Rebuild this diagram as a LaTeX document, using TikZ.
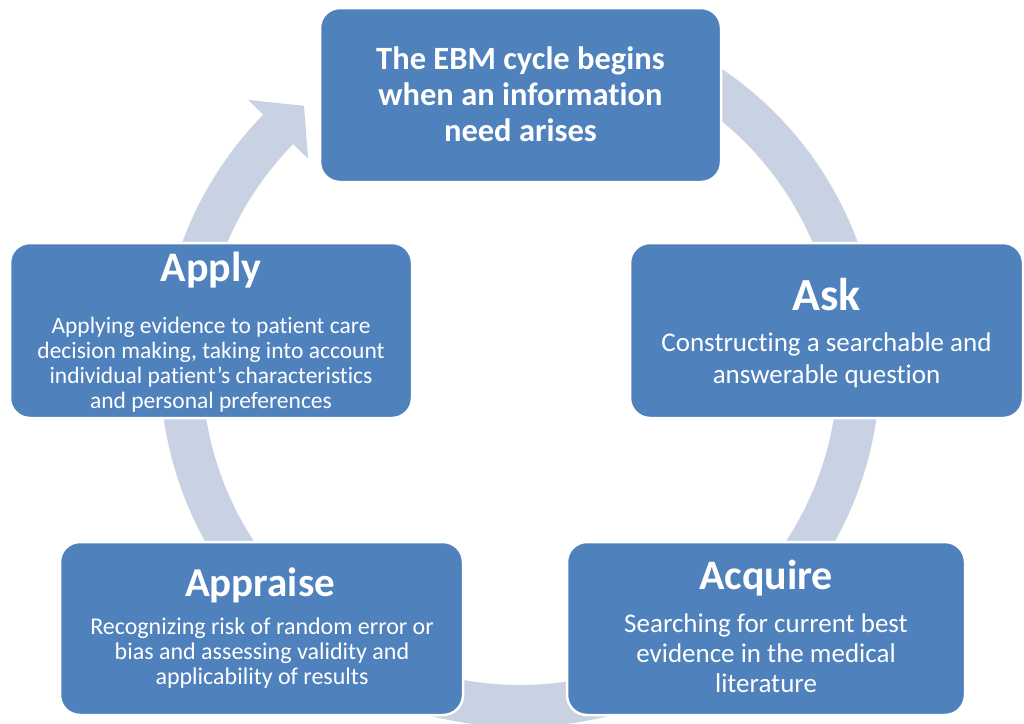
\documentclass[tikz,border=0pt]{standalone}
\usepackage{fontspec}
\setmainfont{Carlito}[Ligatures={NoCommon}]
\usetikzlibrary{calc}
\definecolor{boxblue}{RGB}{79,129,189}
\definecolor{ringblue}{RGB}{201,210,227}

\begin{document}
\begin{tikzpicture}[x=1pt,y=-1pt,
  stagebox/.style={draw=white, line width=2.5pt, fill=boxblue, rounded corners=20pt, inner sep=0pt},
  headtext/.style={text=white, align=center, inner sep=0pt, font=\bfseries\fontsize{32.5}{36}\selectfont},
  titletext/.style={text=white, inner sep=0pt, font=\bfseries\fontsize{42}{46}\selectfont},
  bodytext/.style={text=white, align=center, inner sep=0pt},
]
\useasboundingbox[fill=white] (0,0) rectangle (1024,723);

% cycle ring behind the stages, ending in one arrowhead at the top left
\coordinate (c) at (520,367);
\fill[ringblue] ($(c)+(-58:360)$) arc[start angle=-58, end angle=224.5, radius=360]
  -- ($(c)+(224.5:381)$) -- ($(c)+(230.4:339)$) -- ($(c)+(224.5:297)$)
  -- ($(c)+(224.5:318)$) arc[start angle=224.5, end angle=-58, radius=318] -- cycle;

% stage boxes
\node[stagebox, minimum width=401pt, minimum height=174pt] (need) at (520.5,95) {};
\node[stagebox, minimum width=393pt, minimum height=175pt] (ask) at (826.5,330.5) {};
\node[stagebox, minimum width=398pt, minimum height=173pt] (acquire) at (766,628.5) {};
\node[stagebox, minimum width=403pt, minimum height=173pt] (appraise) at (261.5,628.5) {};
\node[stagebox, minimum width=402pt, minimum height=175pt] (apply) at (211,330.5) {};

% texts
\node[headtext] (needtxt) at (520.5,94) {The EBM cycle begins\\when an information\\need arises};

\node[titletext, font=\bfseries\fontsize{46}{50}\selectfont] (asktitle) at (826.5,295) {Ask};
\node[bodytext, font=\fontsize{27}{32}\selectfont] (askbody) at (826.5,360) {Constructing a searchable and\\answerable question};

\node[titletext] (acqtitle) at (766,578) {Acquire};
\node[bodytext, font=\fontsize{27}{30}\selectfont] (acqbody) at (766,653) {Searching for current best\\evidence in the medical\\literature};

\node[titletext, font=\bfseries\fontsize{41}{45}\selectfont] (apptitle) at (260,585) {Appraise};
\node[bodytext, font=\fontsize{24}{25}\selectfont] (appbody) at (262,653) {Recognizing risk of random error or\\bias and assessing validity and\\applicability of results};

\node[titletext] (applytitle) at (211,270) {Apply};
\node[bodytext, font=\fontsize{23.5}{25}\selectfont] (applybody) at (211,365) {Applying evidence to patient care\\decision making, taking into account\\individual patient’s characteristics\\and personal preferences};
\end{tikzpicture}
\end{document}
